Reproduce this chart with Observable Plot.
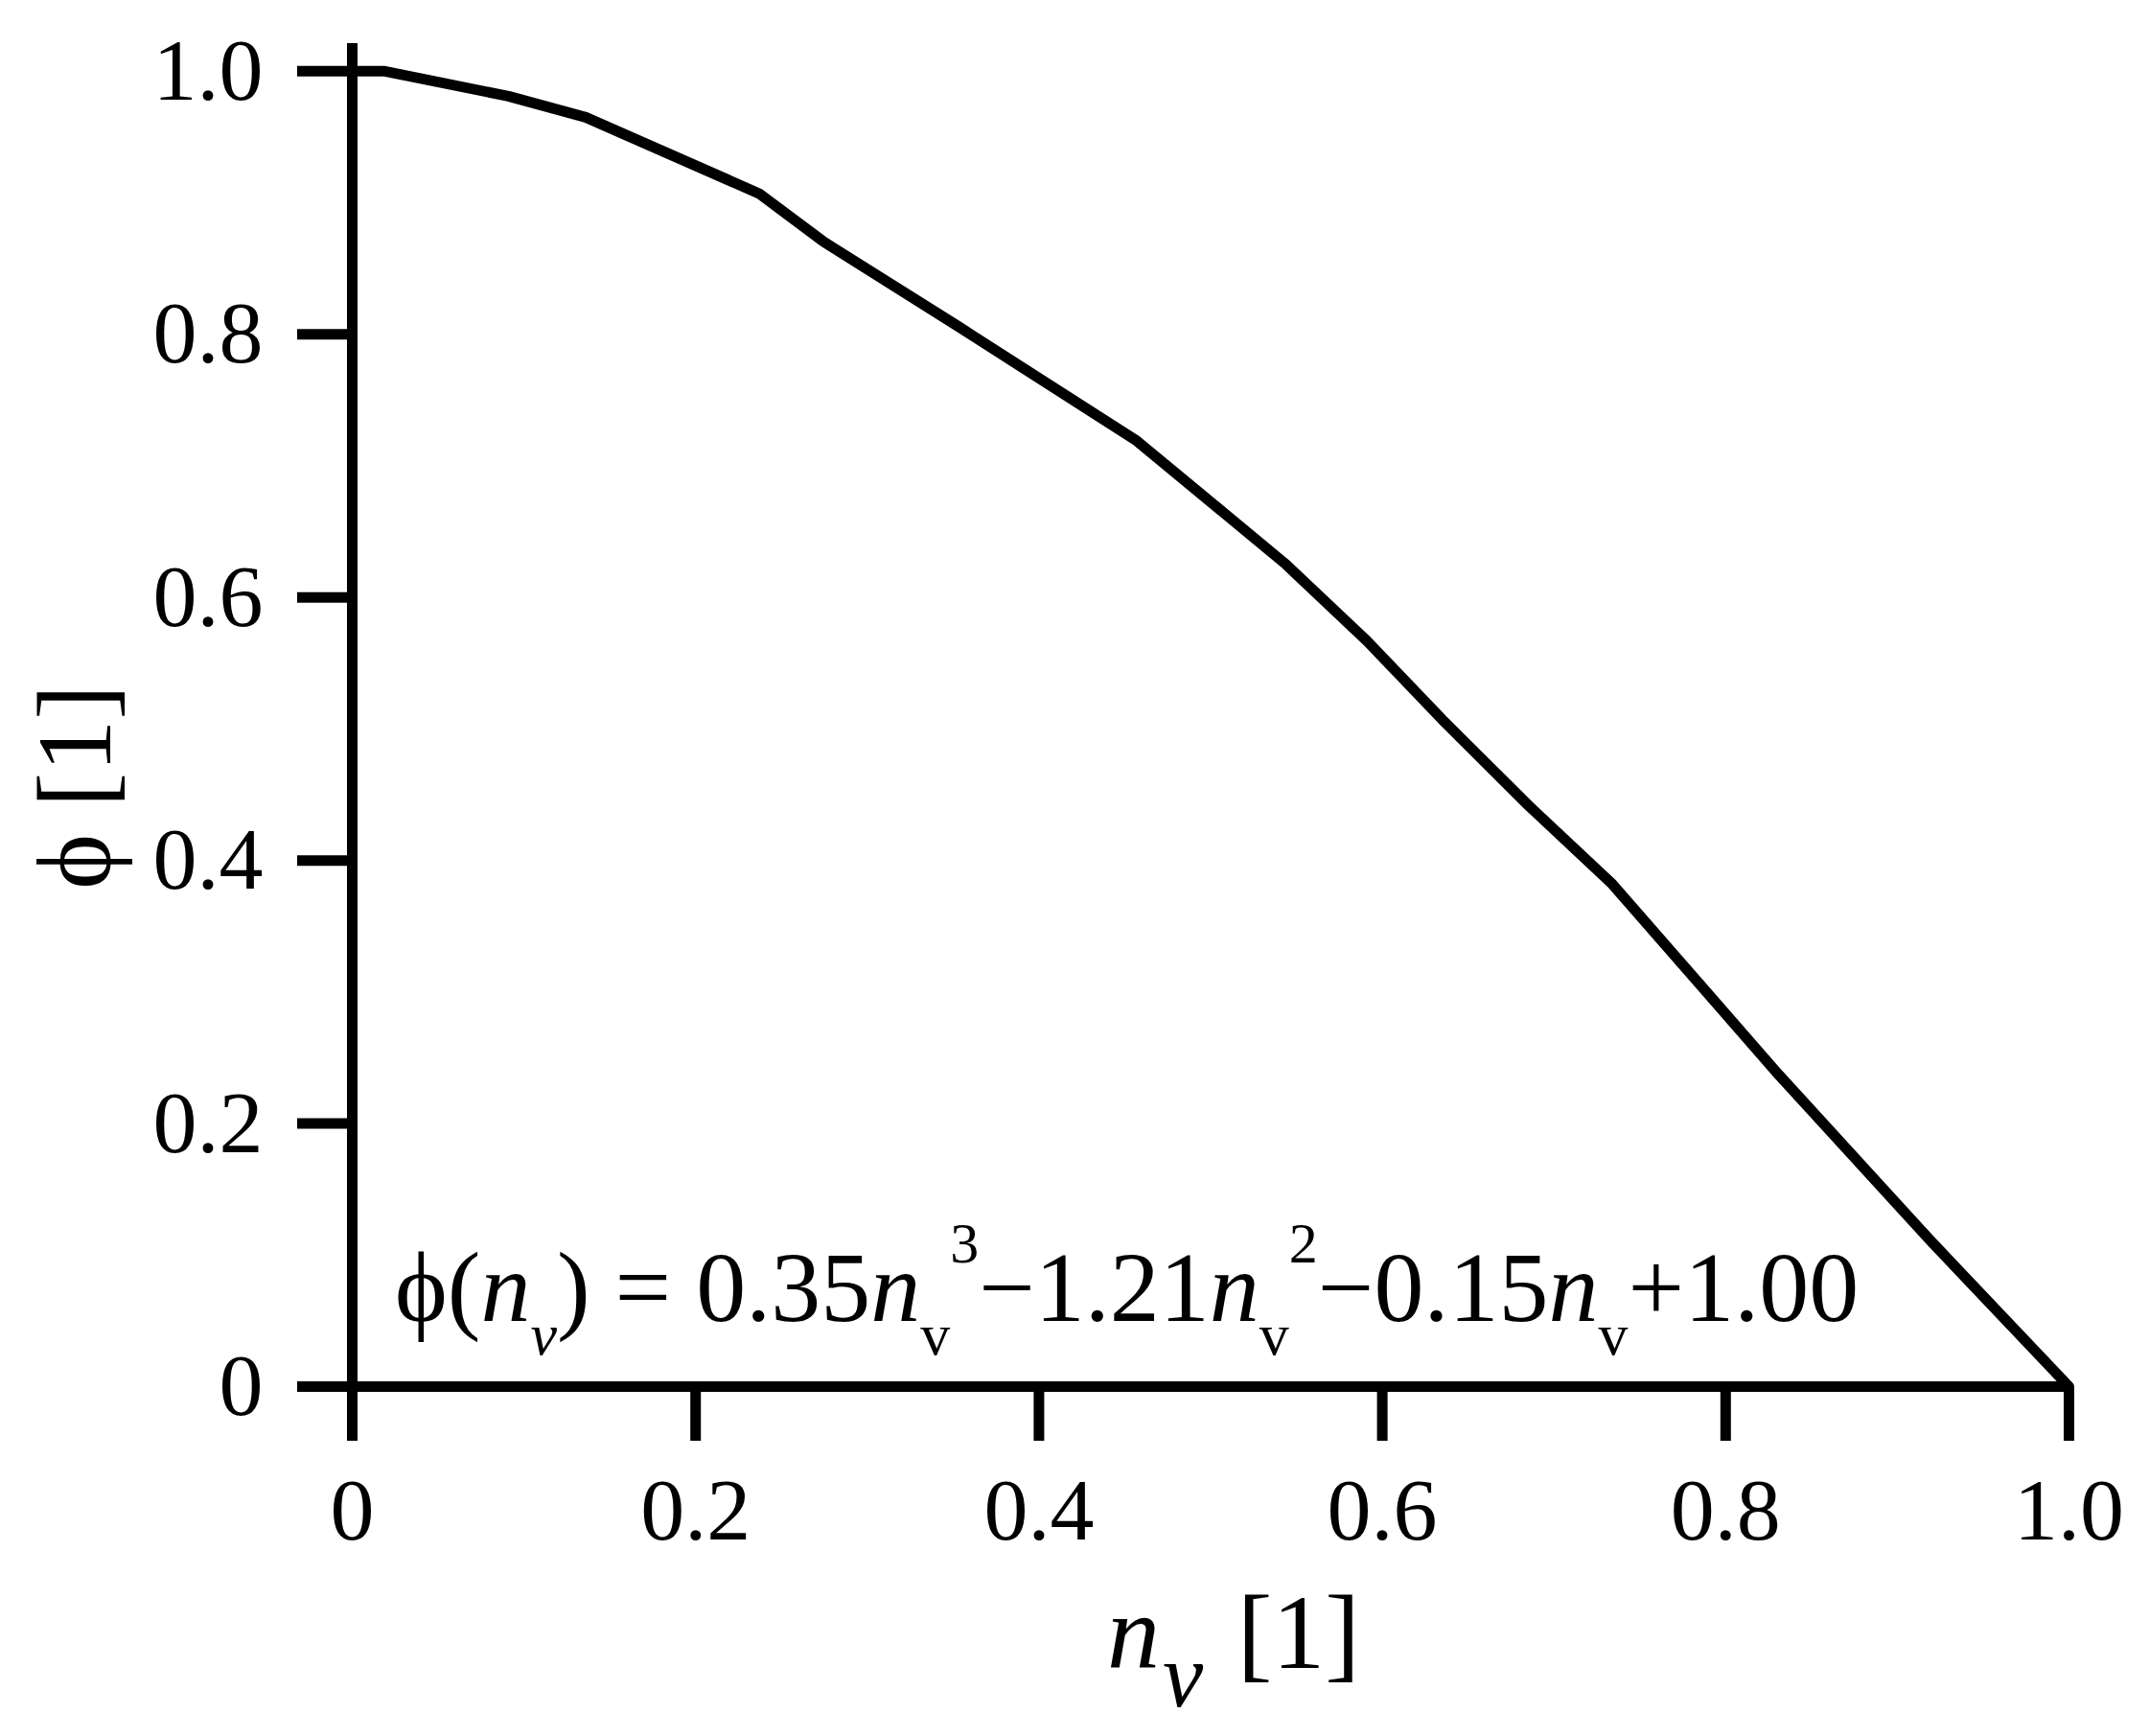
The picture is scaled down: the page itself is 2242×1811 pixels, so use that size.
<!DOCTYPE html>
<html>
<head>
<meta charset="utf-8">
<script src="https://cdn.jsdelivr.net/npm/d3@7"></script>
<script src="https://cdn.jsdelivr.net/npm/@observablehq/plot@0.6"></script>
<style>
  html, body { margin: 0; padding: 0; background: #fff; }
  svg { display: block; }
</style>
</head>
<body>
<div id="chart"></div>
<script>
// Curve
const nv  = [0, 0.019, 0.091, 0.136, 0.237, 0.275, 0.353, 0.457, 0.544, 0.591, 0.635, 0.685, 0.734, 0.831, 0.92, 1.0];
const phi = [1.0, 1.0, 0.981, 0.965, 0.907, 0.870, 0.806, 0.719, 0.625, 0.567, 0.507, 0.442, 0.382, 0.237, 0.11, 0.0];

// Axis ticks
const xTicks = [0, 0.2, 0.4, 0.6, 0.8, 1.0];
const xTickLabels = ["0", "0.2", "0.4", "0.6", "0.8", "1.0"];
const yTicks = [0, 0.2, 0.4, 0.6, 0.8, 1.0];
const yTickLabels = ["0", "0.2", "0.4", "0.6", "0.8", "1.0"];

const data = nv.map((x, i) => ({x, y: phi[i]}));
const FONT = "'Liberation Serif', 'Times New Roman', Times, serif";

const plot = Plot.plot({
  width: 2242,
  height: 1811,
  marginLeft: 367,
  marginRight: 84,
  marginTop: 45,
  marginBottom: 365,
  style: {fontFamily: FONT, background: "#fff", color: "#000", overflow: "visible"},
  x: {domain: [0, 1]},
  y: {domain: [0, 1.021]},
  marks: [
    Plot.axisX(xTicks, {
      tickSize: 57, tickPadding: 37, strokeWidth: 11, fontSize: 92,
      tickFormat: d => xTickLabels[xTicks.indexOf(d)], label: null
    }),
    Plot.axisY(yTicks, {
      tickSize: 57, tickPadding: 36, strokeWidth: 11, fontSize: 92,
      tickFormat: d => yTickLabels[yTicks.indexOf(d)], label: null
    }),
    Plot.ruleX([0], {stroke: "#000", strokeWidth: 11}),
    Plot.ruleY([0], {stroke: "#000", strokeWidth: 11}),
    Plot.line(data, {x: "x", y: "y", stroke: "#000", strokeWidth: 11,
      strokeLinejoin: "round", strokeLinecap: "round"})
  ]
});

document.getElementById("chart").appendChild(plot);

const svg = d3.select(plot);

// Helper to build rich text
function rich(sel, parts) {
  for (const p of parts) {
    const t = sel.append("tspan").text(p.t);
    if (p.i) t.attr("font-style", "italic");
    if (p.s) t.attr("font-size", p.s);
    if (p.dy) t.attr("dy", p.dy);
    if (p.dx) t.attr("dx", p.dx);
  }
}

// Equation annotation
const eq = svg.append("text")
  .attr("x", 412).attr("y", 1378)
  .attr("text-anchor", "start")
  .attr("font-family", FONT).attr("font-size", 104).attr("fill", "#000");
rich(eq, [
  {t: "\u03D5("},
  {t: "n", i: true},
  {t: "v", i: true, s: 62, dy: 35},
  {t: ")", dy: -35},
  {t: " = 0.35"},
  {t: "n", i: true},
  {t: "v", s: 62, dy: 35},
  {t: "3", s: 60, dy: -96},
  {t: "\u22121.21", dy: 61},
  {t: "n", i: true},
  {t: "v", s: 62, dy: 35},
  {t: "2", s: 60, dy: -96},
  {t: "\u22120.15", dy: 61},
  {t: "n", i: true},
  {t: "v", s: 62, dy: 35},
  {t: "+1.00", dy: -35}
]);

// X axis title
const xt = svg.append("text")
  .attr("x", 1155).attr("y", 1740)
  .attr("text-anchor", "start")
  .attr("font-family", FONT).attr("font-size", 110).attr("fill", "#000");
rich(xt, [
  {t: "n", i: true},
  {t: "v", i: true, s: 95, dy: 40, dx: 3},
  {t: " [1]", dy: -40, dx: 8}
]);

// Y axis title
svg.append("text")
  .attr("transform", "translate(115,821) rotate(-90)")
  .attr("text-anchor", "middle")
  .attr("font-family", FONT).attr("font-size", 110).attr("fill", "#000")
  .text("\u03D5 [1]");
</script>
</body>
</html>
